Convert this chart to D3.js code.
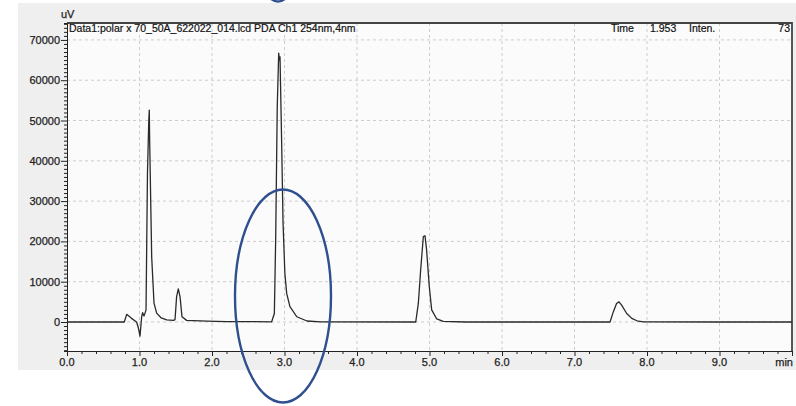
<!DOCTYPE html>
<html>
<head>
<meta charset="utf-8">
<script src="https://cdn.jsdelivr.net/npm/d3@7"></script>
<style>
  body { margin: 0; background: #fff; }
  text { font-family: Arial, "Liberation Sans", sans-serif; }
</style>
</head>
<body>
<div id="chart-container"></div>
<script>
// chromatogram trace (min, uV)
const times = [0.00, 0.50, 0.79, 0.823, 0.89, 0.96, 0.985, 1.007, 1.03, 1.043, 1.062, 1.076,
  1.09, 1.10, 1.11, 1.128, 1.135, 1.14, 1.148, 1.168, 1.20, 1.237, 1.30, 1.375,
  1.47, 1.49, 1.512, 1.535, 1.559, 1.586, 1.65, 1.93, 2.20,
  2.823, 2.86, 2.878, 2.90, 2.92, 2.93, 2.938, 2.96, 2.98, 3.005, 3.03, 3.075, 3.17, 3.31, 3.50,
  4.81, 4.846, 4.878, 4.915, 4.938, 4.96, 4.997, 5.03, 5.10, 5.19, 5.50,
  7.49, 7.535, 7.58, 7.614, 7.65, 7.72, 7.79, 7.86, 7.95, 9.0, 10.0];
const intensity = [0, 0, 0, 1900, 900, 0, -1500, -3500, 1300, 2300, 1500, 2200,
  3000, 20000, 37000, 50000, 52600, 45000, 37000, 16200, 4700, 2200, 1000, 500,
  400, 600, 6300, 8200, 6300, 1300, 400, 200, 100,
  50, 2100, 20300, 53400, 66700, 65000, 65800, 45200, 24500, 12100, 7100, 3800, 1300, 250, 50,
  0, 4600, 12900, 21200, 21400, 17900, 8800, 3000, 750, 150, 0,
  0, 2500, 4600, 5000, 4200, 2100, 900, 300, 50, 0, 0];

const xTicks = [0, 1, 2, 3, 4, 5, 6, 7, 8, 9];
const yTicks = [0, 10000, 20000, 30000, 40000, 50000, 60000, 70000];
const title = "Data1:polar x 70_50A_622022_014.lcd PDA Ch1 254nm,4nm";
const cursorInfo = { time: "1.953", inten: "73" };

const W = 796, H = 406;
const plot = { left: 67, top: 23, right: 792, bottom: 351 };

const svg = d3.select("#chart-container")
  .append("svg")
  .attr("width", W)
  .attr("height", H);

// grey window panel
svg.append("rect")
  .attr("x", 18).attr("y", 3)
  .attr("width", W - 18).attr("height", 367)
  .attr("fill", "#efefef");

svg.append("rect")
  .attr("x", plot.left).attr("y", plot.top)
  .attr("width", plot.right - plot.left).attr("height", plot.bottom - plot.top)
  .attr("fill", "#fbfbfb");

const x = d3.scaleLinear().domain([0, 10]).range([plot.left, plot.right]);
const y = d3.scaleLinear().domain([-7200, 74200]).range([plot.bottom, plot.top]);

// dashed grid
svg.append("g")
  .selectAll("line")
  .data(xTicks.slice(1))
  .enter()
  .append("line")
  .attr("x1", d => x(d)).attr("x2", d => x(d))
  .attr("y1", plot.top).attr("y2", plot.bottom)
  .attr("stroke", "#cdcdcd")
  .attr("stroke-dasharray", "3,3");

svg.append("g")
  .selectAll("line")
  .data(yTicks)
  .enter()
  .append("line")
  .attr("x1", plot.left).attr("x2", plot.right)
  .attr("y1", d => y(d)).attr("y2", d => y(d))
  .attr("stroke", "#cdcdcd")
  .attr("stroke-dasharray", "3,3");

// frame top / right
svg.append("path")
  .attr("d", `M${plot.left},${plot.top}H${plot.right}V${plot.bottom}`)
  .attr("fill", "none")
  .attr("stroke", "#444")
  .attr("stroke-width", 1.8);

// x axis with minor ticks
const xAxis = svg.append("g")
  .attr("transform", `translate(0,${plot.bottom})`);
xAxis.call(d3.axisBottom(x).tickValues(d3.range(0, 10.01, 0.2)).tickSize(3).tickFormat(""));
xAxis.call(g => g.selectAll(".tick").filter(d => Math.abs(d - Math.round(d)) < 1e-6).select("line").attr("y2", 5));
xAxis.select(".domain").attr("stroke", "#222");
xAxis.selectAll(".tick line").attr("stroke", "#222");

svg.append("g")
  .selectAll("text")
  .data(xTicks)
  .enter()
  .append("text")
  .attr("x", d => x(d))
  .attr("y", 366)
  .attr("text-anchor", "middle")
  .attr("font-size", 11)
  .attr("fill", "#222")
  .attr("stroke", "#222")
  .attr("stroke-width", 0.25)
  .text(d => d.toFixed(1));

svg.append("text")
  .attr("x", 793).attr("y", 366)
  .attr("text-anchor", "end")
  .attr("font-size", 11)
  .attr("fill", "#222")
  .attr("stroke", "#222")
  .attr("stroke-width", 0.25)
  .text("min");

// y axis with minor ticks
const yAxis = svg.append("g")
  .attr("transform", `translate(${plot.left},0)`);
yAxis.call(d3.axisLeft(y).tickValues(d3.range(-7000, 74001, 1000)).tickSize(3).tickFormat(""));
yAxis.call(g => g.selectAll(".tick").filter(d => d % 10000 === 0).select("line").attr("x2", -6));
yAxis.select(".domain").attr("stroke", "#222");
yAxis.selectAll(".tick line").attr("stroke", "#222");

svg.append("g")
  .selectAll("text")
  .data(yTicks)
  .enter()
  .append("text")
  .attr("x", plot.left - 7)
  .attr("y", d => y(d) + 4)
  .attr("text-anchor", "end")
  .attr("font-size", 11)
  .attr("fill", "#222")
  .attr("stroke", "#222")
  .attr("stroke-width", 0.25)
  .text(d => d);

svg.append("text")
  .attr("x", 61).attr("y", 18)
  .attr("font-size", 11)
  .attr("fill", "#222")
  .attr("stroke", "#222")
  .attr("stroke-width", 0.25)
  .text("uV");

// header texts inside plot
const head = svg.append("g")
  .attr("font-size", 10.5)
  .attr("fill", "#111")
  .attr("stroke", "#111")
  .attr("stroke-width", 0.2);
head.append("text").attr("x", 69).attr("y", 32).text(title);
head.append("text").attr("x", 611).attr("y", 32).text("Time");
head.append("text").attr("x", 650).attr("y", 32).text(cursorInfo.time);
head.append("text").attr("x", 689).attr("y", 32).text("Inten.");
head.append("text").attr("x", 790).attr("y", 32).attr("text-anchor", "end").text(cursorInfo.inten);

// trace
const trace = times.map((t, i) => ({ t: t, v: intensity[i] }));
svg.append("path")
  .datum(trace)
  .attr("fill", "none")
  .attr("stroke", "#2a2a2a")
  .attr("stroke-width", 1.3)
  .attr("stroke-linejoin", "round")
  .attr("d", d3.line().x(d => x(d.t)).y(d => y(d.v)));

// annotation ellipses
svg.append("ellipse")
  .attr("cx", 283).attr("cy", 296)
  .attr("rx", 48).attr("ry", 106.5)
  .attr("fill", "none")
  .attr("stroke", "#2f4f8f")
  .attr("stroke-width", 2.4);

svg.append("ellipse")
  .attr("cx", 278).attr("cy", -6)
  .attr("rx", 9).attr("ry", 7.5)
  .attr("fill", "none")
  .attr("stroke", "#2f4f8f")
  .attr("stroke-width", 2.4);
</script>
</body>
</html>
